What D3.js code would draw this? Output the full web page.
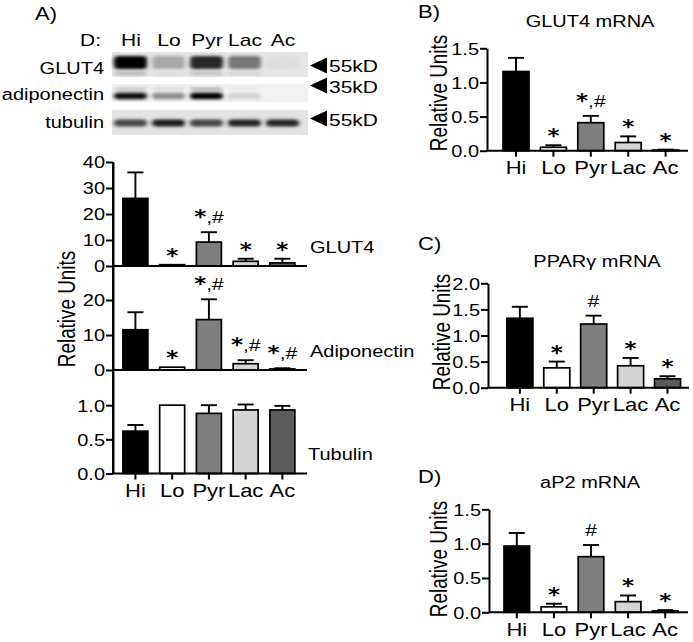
<!DOCTYPE html>
<html><head><meta charset="utf-8">
<script src="https://cdn.jsdelivr.net/npm/d3@7"></script>
<style>
body{margin:0;background:#fff;}
svg text{font-family:"Liberation Sans",Arial,sans-serif;fill:#000;}
</style></head><body>
<svg id="c" width="693" height="642"></svg>
<script>
// ---------------- DATA ----------------
const categories = ["Hi","Lo","Pyr","Lac","Ac"];
// Panel A western blot (relative band darkness 0..1)
const blotRows = ["GLUT4","adiponectin","tubulin"];
const blotMarkers = ["55kD","35kD","55kD"];
const blotGlut4 = [1.0,0.28,0.85,0.5,0.05];
const blotGlut4Faint = [0.25,0.05,0.2,0.1,0.0];
const blotAdipo = [0.95,0.4,1.0,0.1,0.0];
const blotAdipoFaint = [0.2,0.12,0.3,0.04,0.0];
const blotTubulin = [0.72,0.9,0.72,0.88,0.88];
// Panel A quantification (mean, SEM, significance)
const glut4Protein = [26,0.5,9.2,1.8,1.2];
const glut4ProteinSem = [10,0,3.8,1.0,1.6];
const glut4ProteinSig = ["","*","*,#","*","*"];
const adipoProtein = [11.5,0.8,14.4,1.8,0.3];
const adipoProteinSem = [5,0,5.8,1.0,0.2];
const adipoProteinSig = ["","*","*,#","*,#","*,#"];
const tubulinProtein = [0.62,1.0,0.88,0.93,0.93];
const tubulinProteinSem = [0.09,0,0.12,0.08,0.06];
const tubulinProteinSig = ["","","","",""];
const ticksA1 = [0,10,20,30,40];
const ticksA2 = [0,10,20];
const ticksA3 = [0,0.5,1.0];
// Panel B – GLUT4 mRNA
const glut4mRNA = [1.16,0.05,0.41,0.12,0.01];
const glut4mRNASem = [0.2,0.03,0.1,0.09,0.006];
const glut4mRNASig = ["","*","*,#","*","*"];
const ticksB = [0,0.5,1.0,1.5];
// Panel C – PPARγ mRNA
const ppargmRNA = [1.33,0.38,1.22,0.42,0.17];
const ppargmRNASem = [0.22,0.12,0.16,0.15,0.05];
const ppargmRNASig = ["","*","#","*","*"];
const ticksC = [0,0.5,1.0,1.5,2.0];
// Panel D – aP2 mRNA
const ap2mRNA = [0.965,0.08,0.81,0.155,0.02];
const ap2mRNASem = [0.19,0.045,0.17,0.09,0.012];
const ap2mRNASig = ["","*","#","*","*"];
const ticksD = [0,0.5,1.0,1.5];

// ---------------- STYLE ----------------
const barFills = ["#000000","#ffffff","#7f7f7f","#d4d4d4","#5b5b5b"];
const SQ = 0.82;          // text aspect of the source figure
const FS = 20, FS_TICK = 20, FS_CAT = 22, FS_YT = 23;
const svg = d3.select("#c");

function txt(x,y,str,size,anchor){
  return svg.append("text").attr("transform",`translate(${x},${y}) scale(1,${SQ})`)
    .attr("font-size",size||FS).attr("text-anchor",anchor||"start").text(str);
}
function vtxt(x,y,str,size){
  return svg.append("text").attr("transform",`translate(${x},${y}) rotate(-90) scale(${SQ},1)`)
    .attr("font-size",size||FS_YT).attr("text-anchor","middle").text(str);
}
function sigText(g,cx,baseY,str){
  const t = g.append("text").attr("transform",`translate(${cx},${baseY}) scale(1,${SQ})`)
    .attr("text-anchor","middle").attr("font-size",21);
  for(const ch of str){
    const s = t.append("tspan").text(ch);
    if(ch==="*") s.attr("font-family","DejaVu Sans").attr("font-weight","bold").attr("font-size",23);
  }
}

function barPanel(o){
  const x = d3.scaleBand().domain(categories).range([o.x0,o.x1])
    .paddingInner(o.pi).paddingOuter(o.po).align(o.align);
  const y = d3.scaleLinear().domain([0,o.max]).range([o.yBottom,o.yTop]);
  const g = svg.append("g");
  const bw = x.bandwidth();
  g.selectAll("rect.bar").data(categories).join("rect").attr("class","bar")
    .attr("x",d=>x(d)).attr("width",bw)
    .attr("y",(d,i)=>y(o.values[i])).attr("height",(d,i)=>o.yBottom-y(o.values[i]))
    .attr("fill",(d,i)=>barFills[i]).attr("stroke","#000").attr("stroke-width",1.7);
  categories.forEach((c,i)=>{
    const e = o.sem[i]; if(e<=0) return;
    const cx = x(c)+bw/2, y0 = y(o.values[i]), y1 = y(o.values[i]+e);
    g.append("line").attr("x1",cx).attr("x2",cx).attr("y1",y0).attr("y2",y1).attr("stroke","#000").attr("stroke-width",1.9);
    g.append("line").attr("x1",cx-8).attr("x2",cx+8).attr("y1",y1).attr("y2",y1).attr("stroke","#000").attr("stroke-width",1.9);
  });
  categories.forEach((c,i)=>{
    const s = o.sig[i]; if(!s) return;
    const top = y(o.values[i]+o.sem[i]);
    sigText(g, x(c)+bw/2, top-(s.includes("#")?9:3), s);
  });
  const ya = g.append("g").attr("transform",`translate(${o.x0},0)`)
    .call(d3.axisLeft(y).tickValues(o.ticks).tickFormat(o.fmt).tickSize(7).tickPadding(1).tickSizeOuter(0));
  ya.attr("font-family",null).attr("font-size",null);
  ya.selectAll("text").attr("font-size",FS_TICK).attr("dy","0.36em").attr("transform",`scale(1,${SQ})`);
  ya.selectAll("path,line").attr("stroke","#000").attr("stroke-width",2);
  const xa = g.append("g").attr("transform",`translate(0,${o.yBottom})`)
    .call(d3.axisBottom(x).tickSize(o.xTicks?6:0).tickPadding(7).tickSizeOuter(0));
  xa.attr("font-family",null).attr("font-size",null);
  xa.select(".domain").attr("d",`M${o.x0},0H${o.x1}`);
  xa.selectAll("path,line").attr("stroke","#000").attr("stroke-width",2);
  if(o.xTicks){ xa.selectAll("text").attr("font-size",FS_CAT).attr("transform",`scale(1,${SQ})`); }
  else { xa.selectAll(".tick").remove(); }
  return {x,y};
}

// ---------------- PANEL A: BLOT ----------------
txt(35,20,"A)",22);
const lane = d3.scaleBand().domain(categories).range([112,302]);
txt(101,46,"D:",21,"end");
categories.forEach(c=>txt(lane(c)+lane.bandwidth()/2,46,c,21,"middle"));

const defs = svg.append("defs");
defs.append("filter").attr("id","blur").attr("x","-30%").attr("y","-100%").attr("width","160%").attr("height","300%")
  .append("feGaussianBlur").attr("stdDeviation","1.9 1.5");
const strips = [
  {y:52,h:25,bg:"#e6e6e6",band:blotGlut4,cy:62.5,bh:13,faint:blotGlut4Faint,fy:73.5,label:74,arrow:65.5,mk:72},
  {y:84,h:18,bg:"#f2f2f2",band:blotAdipo,cy:96,bh:6.5,faint:blotAdipoFaint,fy:89,label:100,arrow:85.5,mk:93},
  {y:110,h:25,bg:"#e3e3e3",band:blotTubulin,cy:123,bh:7,faint:null,label:128,arrow:118.5,mk:126}
];
const dark = d3.scaleLinear().domain([0,1]).range(["#e8e8e8","#050505"]);
strips.forEach((s,r)=>{
  svg.append("rect").attr("x",112).attr("y",s.y).attr("width",196).attr("height",s.h).attr("fill",s.bg);
  const bg = svg.append("g").attr("filter","url(#blur)");
  bg.selectAll("rect.main").data(categories).join("rect").attr("class","main")
    .attr("x",c=>lane(c)+2).attr("width",lane.bandwidth()-5)
    .attr("y",s.cy-s.bh/2).attr("height",s.bh).attr("rx",4)
    .attr("fill",(c,i)=>dark(s.band[i])).attr("opacity",(c,i)=>s.band[i]>0.02?1:0);
  if(s.faint){
    bg.selectAll("rect.faint").data(categories).join("rect").attr("class","faint")
      .attr("x",c=>lane(c)+3).attr("width",lane.bandwidth()-7)
      .attr("y",s.fy-1.5).attr("height",3)
      .attr("fill","#000").attr("opacity",(c,i)=>s.faint[i]);
  }
  txt(104,s.label,blotRows[r],20,"end");
  svg.append("path").attr("d",`M310,${s.arrow}L327,${s.arrow-8}L327,${s.arrow+8}Z`).attr("fill","#000");
  txt(329,s.mk,blotMarkers[r],21);
});

// ---------------- PANEL A: BARS ----------------
svg.append("line").attr("x1",113).attr("x2",113).attr("y1",162).attr("y2",473.5).attr("stroke","#000").attr("stroke-width",2);
const aCommon = {x0:113,x1:307,pi:0.32,po:0.3,align:0.45};
barPanel({...aCommon,yBottom:266,yTop:162,max:40,ticks:ticksA1,fmt:d3.format("d"),values:glut4Protein,sem:glut4ProteinSem,sig:glut4ProteinSig,xTicks:false});
barPanel({...aCommon,yBottom:370,yTop:265,max:30,ticks:ticksA2,fmt:d3.format("d"),values:adipoProtein,sem:adipoProteinSem,sig:adipoProteinSig,xTicks:false});
barPanel({...aCommon,yBottom:473.5,yTop:371,max:1.5,ticks:ticksA3,fmt:d3.format(".1f"),values:tubulinProtein,sem:tubulinProteinSem,sig:tubulinProteinSig,xTicks:true});
vtxt(75,309,"Relative Units");
txt(310,253,"GLUT4");
txt(310,357,"Adiponectin");
txt(308,460,"Tubulin");

// ---------------- PANEL B ----------------
txt(418,18,"B)",22);
txt(590,27,"GLUT4 mRNA",FS,"middle");
vtxt(447,93,"Relative Units");
barPanel({x0:487,x1:688,pi:0.305,po:0.34,align:0.63,yBottom:150.7,yTop:48.3,max:1.5,ticks:ticksB,fmt:d3.format(".1f"),values:glut4mRNA,sem:glut4mRNASem,sig:glut4mRNASig,xTicks:true});

// ---------------- PANEL C ----------------
txt(418,250,"C)",22);
txt(597,267,"PPARγ mRNA",FS,"middle");
vtxt(450,332,"Relative Units");
barPanel({x0:488,x1:689,pi:0.295,po:0.37,align:0.69,yBottom:387.7,yTop:283.3,max:2.0,ticks:ticksC,fmt:d3.format(".1f"),values:ppargmRNA,sem:ppargmRNASem,sig:ppargmRNASig,xTicks:true});

// ---------------- PANEL D ----------------
txt(418,483,"D)",22);
txt(590,488,"aP2 mRNA",FS,"middle");
vtxt(447,559,"Relative Units");
barPanel({x0:489,x1:688,pi:0.31,po:0.337,align:0.6,yBottom:612.3,yTop:509.3,max:1.5,ticks:ticksD,fmt:d3.format(".1f"),values:ap2mRNA,sem:ap2mRNASem,sig:ap2mRNASig,xTicks:true});
</script></body></html>
